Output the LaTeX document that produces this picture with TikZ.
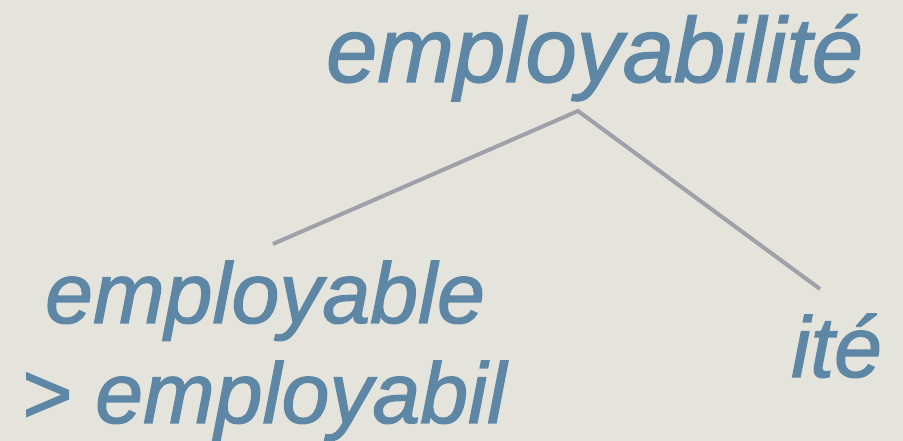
\documentclass[tikz,border=0pt]{standalone}
\usepackage{fontspec}
\setmainfont{Liberation Sans}[ItalicFeatures={FakeBold=1.5}]
\definecolor{bgc}{RGB}{228,228,220}
\definecolor{txtc}{RGB}{94,135,166}
\definecolor{linec}{RGB}{160,160,168}
\begin{document}
\begin{tikzpicture}[x=1pt,y=1pt,
  word/.style={inner sep=0pt, anchor=base west, text=txtc, font=\itshape\fontsize{86}{86}\selectfont},
  bigword/.style={word, font=\itshape\fontsize{92}{92}\selectfont},
  branch/.style={draw=linec, line width=4pt}]
\fill[bgc] (0,0) rectangle (903,441);
\useasboundingbox (0,0) rectangle (903,441);
\node[bigword] (top) at (326,359) {employabilité};
\node[word] (left) at (45,118) {employable};
\node[word] (left2) at (21,18) {> employabil};
\node[word] (right) at (791,64) {ité};
\coordinate (apex) at (578,330);
\coordinate (lend) at (273,197);
\coordinate (rend) at (820,152);
\draw[branch] (lend) -- (apex) -- (rend);
\end{tikzpicture}
\end{document}
